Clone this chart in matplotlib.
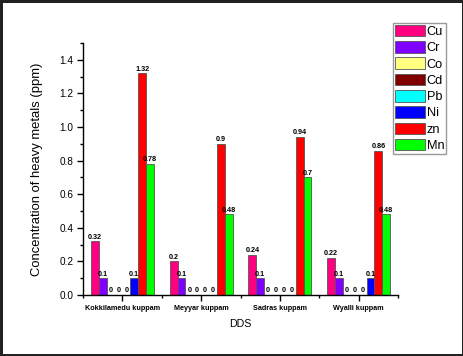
import numpy as np
import matplotlib
matplotlib.use('Agg')
import matplotlib.pyplot as plt
from matplotlib.ticker import MultipleLocator, FixedLocator

plt.rcParams['font.family'] = ['Liberation Sans', 'DejaVu Sans']

sites = ['Kokkilamedu kuppam', 'Meyyar kuppam', 'Sadras kuppam', 'Wyalli kuppam']
metals = ['Cu', 'Cr', 'Co', 'Cd', 'Pb', 'Ni', 'zn', 'Mn']
cu = [0.32, 0.2, 0.24, 0.22]
cr = [0.1, 0.1, 0.1, 0.1]
co = [0, 0, 0, 0]
cd = [0, 0, 0, 0]
pb = [0, 0, 0, 0]
ni = [0.1, 0, 0, 0.1]
zn = [1.32, 0.9, 0.94, 0.86]
mn = [0.78, 0.48, 0.7, 0.48]
colors = ['#FF0080', '#8000FF', '#FFFF80', '#800000',
          '#00FFFF', '#0000FF', '#FF0000', '#00FF00']

series = [cu, cr, co, cd, pb, ni, zn, mn]

fig = plt.figure(figsize=(4.64, 3.56), dpi=100)
fig.patch.set_edgecolor('#222222')
fig.patch.set_linewidth(2.5)
ax = fig.add_axes([83 / 464, 1 - 295 / 356, (398 - 83) / 464, (295 - 43) / 356])

x = np.arange(len(sites))
width = 0.1
handles = []
for i, (name, vals) in enumerate(zip(metals, series)):
    pos = x - 0.35 + i * width
    bars = ax.bar(pos, vals, width, color=colors[i], edgecolor='#555555',
                  linewidth=0.6, label=name)
    handles.append(bars)
    labels = []
    for j, v in enumerate(vals):
        # Ni has no label where it is zero in the first and last groups
        if name == 'Ni' and v == 0 and j in (0, 3):
            labels.append('')
        else:
            labels.append('%g' % v)
    ax.bar_label(bars, labels=labels, padding=0.5, fontsize=5.2,
                 fontweight='bold')

ax.set_xlim(-0.5, 3.5)
ax.set_ylim(0, 1.5)
ax.set_xticks(x)
ax.set_xticklabels(sites, fontsize=5.2, fontweight='bold')
ax.xaxis.set_minor_locator(FixedLocator([-0.5, 0.5, 1.5, 2.5, 3.5]))
ax.yaxis.set_major_locator(MultipleLocator(0.2))
ax.yaxis.set_minor_locator(MultipleLocator(0.1))
ax.set_yticks(np.arange(0, 1.41, 0.2))
ax.yaxis.set_major_formatter(matplotlib.ticker.FormatStrFormatter('%.1f'))
ax.tick_params(axis='y', which='major', length=4, width=1, labelsize=7.2, pad=3)
ax.tick_params(axis='y', which='minor', length=2.5, width=1)
ax.tick_params(axis='x', which='major', length=4, width=1, pad=3)
ax.tick_params(axis='x', which='minor', length=2.5, width=1)

for s in ['top', 'right']:
    ax.spines[s].set_visible(False)
for s in ['left', 'bottom']:
    ax.spines[s].set_linewidth(1)

ax.set_ylabel('Concentration of heavy metals (ppm)', fontsize=9.4, labelpad=12)
ax.set_xlabel('DDS', fontsize=7.7, labelpad=5)

leg = fig.legend(handles, metals, loc='upper left',
                 bbox_to_anchor=(393 / 464, 1 - 23 / 356), fontsize=9.2,
                 handlelength=2.35, handleheight=1.0, handletextpad=0.15,
                 labelspacing=0.25, borderpad=0.15, borderaxespad=0,
                 fancybox=False, framealpha=1)
leg.get_frame().set_edgecolor('#999999')
leg.get_frame().set_linewidth(1)

fig.savefig('out.png', dpi=100)
